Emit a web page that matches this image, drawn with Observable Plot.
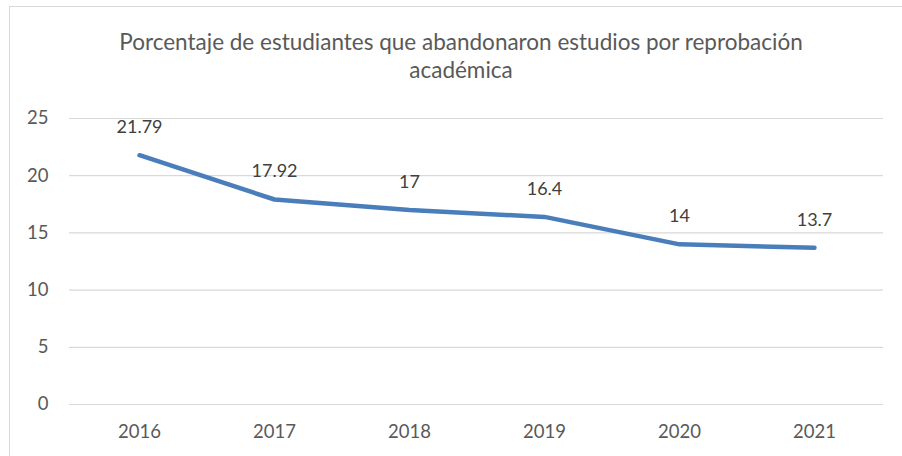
<!DOCTYPE html>
<html>
<head>
<meta charset="utf-8">
<script src="https://cdn.jsdelivr.net/npm/d3@7"></script>
<script src="https://cdn.jsdelivr.net/npm/@observablehq/plot@0.6"></script>
<style>
  html, body { margin: 0; padding: 0; background: #fff; }
  #wrap { position: relative; width: 902px; height: 456px; overflow: hidden; font-family: Lato, "Open Sans", sans-serif; }
  #frame { position: absolute; left: 9px; top: 6px; width: 900px; height: 470px; border: 1px solid #d9d9d9; box-sizing: border-box; }
  #title { position: absolute; left: 0; top: 28px; width: 922px; text-align: center; color: #595959; font-size: 22.5px; line-height: 28px; }
  #chart { position: absolute; left: 0; top: 0; }
</style>
</head>
<body>
<div id="wrap">
  <div id="frame"></div>
  <div id="title">Porcentaje de estudiantes que abandonaron estudios por reprobación<br>académica</div>
  <div id="chart"></div>
</div>
<script>
const years = ["2016", "2017", "2018", "2019", "2020", "2021"];
const values = [21.79, 17.92, 17, 16.4, 14, 13.7];
const labels = ["21.79", "17.92", "17", "16.4", "14", "13.7"];
const yTicks = [0, 5, 10, 15, 20, 25];

const data = years.map((y, i) => ({year: y, value: values[i], label: labels[i]}));

const chart = Plot.plot({
  width: 902,
  height: 456,
  marginLeft: 69,
  marginRight: 19,
  marginTop: 118,
  marginBottom: 52,
  style: {fontFamily: "Lato, 'Open Sans', sans-serif", fontSize: "18.5px", color: "#595959", background: "transparent", overflow: "visible"},
  x: {type: "point", domain: years, padding: 0.5, label: null, tickSize: 0, tickPadding: 20},
  y: {domain: [0, 25], ticks: yTicks, label: null, tickSize: 0, tickPadding: 21},
  marks: [
    Plot.gridY(yTicks, {stroke: "#d9d9d9", strokeOpacity: 1, strokeWidth: 1.2}),
    Plot.axisX({tickSize: 0, tickPadding: 20, fontSize: 18.5, fill: "#595959"}),
    Plot.axisY(yTicks, {tickSize: 0, tickPadding: 21, fontSize: 18.5, fill: "#595959"}),
    Plot.line(data, {x: "year", y: "value", stroke: "#4a7ebb", strokeWidth: 4.5, strokeLinecap: "round", strokeLinejoin: "round"}),
    Plot.text(data, {x: "year", y: "value", text: "label", dy: -28, fontSize: 18, fill: "#404040"})
  ]
});
document.getElementById("chart").appendChild(chart);
</script>
</body>
</html>
